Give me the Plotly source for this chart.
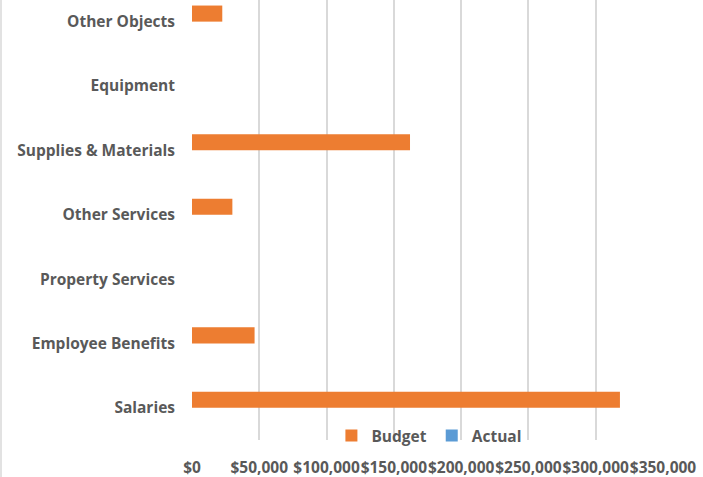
import plotly.graph_objects as go

# Budget vs actual spending by object category
categories = ["Salaries", "Employee Benefits", "Property Services", "Other Services",
              "Supplies & Materials", "Equipment", "Other Objects"]
budget = [318000, 46500, 0, 30000, 162000, 0, 22500]
actual = [0, 0, 0, 0, 0, 0, 0]
tick_vals = [0, 50000, 100000, 150000, 200000, 250000, 300000, 350000]
tick_text = ["$0", "$50,000", "$100,000", "$150,000", "$200,000", "$250,000", "$300,000", "$350,000"]

W, H = 703, 477
ML, MR, MT, MB = 192, 40, 0, 37
plot_h = H - MT - MB
plot_w = W - ML - MR

font_fam = "'Open Sans', 'Noto Sans', sans-serif"
grey = "#595959"
fsize = 15.5

fig = go.Figure()
fig.add_trace(go.Bar(y=categories, x=actual, orientation="h", name="Actual",
                     marker=dict(color="#5B9BD5", line=dict(width=0))))
fig.add_trace(go.Bar(y=categories, x=budget, orientation="h", name="Budget",
                     marker=dict(color="#ED7D31", line=dict(width=0))))

fig.update_layout(
    width=W, height=H,
    margin=dict(l=ML, r=MR, t=MT, b=MB, pad=0),
    paper_bgcolor="white", plot_bgcolor="white",
    barmode="group", bargap=0.5, bargroupgap=0,
    font=dict(family=font_fam, size=fsize, color=grey, weight="bold"),
    legend=dict(orientation="h", traceorder="reversed",
                x=0.503, xanchor="center", y=4 / plot_h, yanchor="middle",
                font=dict(family=font_fam, size=fsize, color=grey, weight="bold"),
                itemwidth=30, bgcolor="rgba(0,0,0,0)"),
    xaxis=dict(range=[0, 350000], tickvals=tick_vals, ticktext=tick_text,
               tickangle=0, showgrid=True, gridcolor="#D9D9D9", gridwidth=2,
               zeroline=False, showline=False, ticks="", ticklabelstandoff=16,
               tickfont=dict(family=font_fam, size=fsize, color=grey, weight="bold"),
               fixedrange=True),
    yaxis=dict(range=[-0.5, 6.336], showgrid=False, zeroline=False, showline=False,
               ticks="", ticklabelstandoff=16,
               tickfont=dict(family=font_fam, size=fsize, color=grey, weight="bold"),
               fixedrange=True),
    shapes=[dict(type="line", xref="paper", yref="paper",
                 x0=(1 - ML) / plot_w, x1=(1 - ML) / plot_w,
                 y0=-MB / plot_h, y1=1, line=dict(color="#D9D9D9", width=1.5))],
)

fig.write_html("out.html")
